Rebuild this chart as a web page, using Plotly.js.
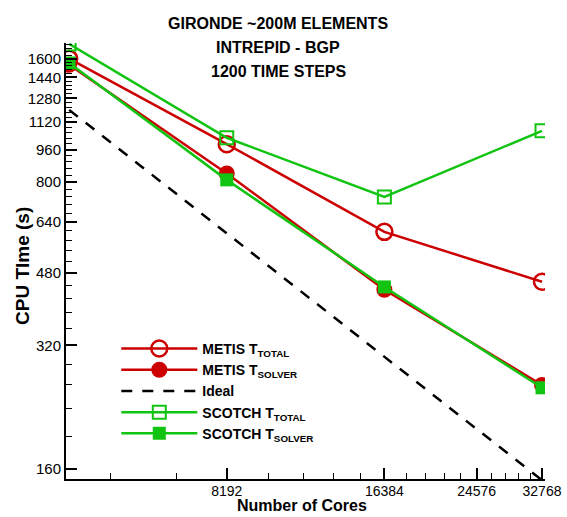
<!DOCTYPE html>
<html>
<head>
<meta charset="utf-8">
<script src="https://cdn.plot.ly/plotly-3.0.1.min.js"></script>
<style>html,body{margin:0;padding:0;background:#fff;}#chart{width:567px;height:517px;}</style>
</head>
<body>
<div id="chart"></div>
<script>
const cores = [4096, 8192, 16384, 32768];
const metisTotal = [1600, 990, 605, 457];
const metisSolver = [1546, 840, 437, 256];
const ideal = [1200, 600, 300, 150];
const scotchTotal = [1738, 1026, 736, 1067];
const scotchSolver = [1562, 810, 444, 252];

const seriesNames = ['METIS T<sub>TOTAL</sub>', 'METIS T<sub>SOLVER</sub>', 'Ideal', 'SCOTCH T<sub>TOTAL</sub>', 'SCOTCH T<sub>SOLVER</sub>'];

const xTickVals = [8192, 16384, 24576, 32768];
const xTickText = ['8192', '16384', '24576', '32768'];
const yTickVals = [160, 320, 480, 640, 800, 960, 1120, 1280, 1440, 1600];
const yTickText = ['160', '320', '480', '640', '800', '960', '1120', '1280', '1440', '1600'];

const xMinor = [];
for (let k = 3; k <= 19; k++) { const v = 1638.4 * k; if (k % 5 !== 0) xMinor.push(v); }
const yMinor = [];
for (let v = 160; v <= 1760; v += 32) { if (v % 160 !== 0) yMinor.push(v); }

const RED = '#cc0000';
const GREEN = '#11c411';
const FONT = 'Liberation Sans, Arial, Helvetica, sans-serif';

const traces = [
  {x: cores, y: metisTotal, name: '<b>' + seriesNames[0] + '</b>', mode: 'lines+markers',
   line: {color: RED, width: 2.5},
   marker: {symbol: 'circle-open', size: 16, color: RED, line: {width: 2.5, color: RED}}},
  {x: cores, y: metisSolver, name: '<b>' + seriesNames[1] + '</b>', mode: 'lines+markers',
   line: {color: RED, width: 2.5},
   marker: {symbol: 'circle', size: 16, color: RED}},
  {x: cores, y: ideal, name: '<b>' + seriesNames[2] + '</b>', mode: 'lines',
   line: {color: 'black', width: 2.5, dash: '11px,10px'}},
  {x: cores, y: scotchTotal, name: '<b>' + seriesNames[3] + '</b>', mode: 'lines+markers',
   line: {color: GREEN, width: 2.5},
   marker: {symbol: 'square-open', size: 13, color: GREEN, line: {width: 2, color: GREEN}}},
  {x: cores, y: scotchSolver, name: '<b>' + seriesNames[4] + '</b>', mode: 'lines+markers',
   line: {color: GREEN, width: 2.5},
   marker: {symbol: 'square', size: 13, color: GREEN}}
];

const titleLines = ['GIRONDE ~200M ELEMENTS', 'INTREPID - BGP', '1200 TIME STEPS'];
const titleY = [1.044, 0.989, 0.934];
const annotations = titleLines.map((t, i) => ({
  text: '<b>' + t + '</b>', xref: 'paper', yref: 'paper', x: 0.4426, y: titleY[i],
  xanchor: 'center', yanchor: 'middle', showarrow: false,
  font: {family: FONT, size: 16, color: 'black'}
}));
annotations.push({
  text: '<b>CPU TIme (s)</b>', xref: 'paper', yref: 'paper', x: -0.0919, y: 0.4885,
  xanchor: 'center', yanchor: 'middle', showarrow: false, textangle: -90,
  font: {family: FONT, size: 19, color: 'black'}
});
annotations.push({
  text: '<b>Number of Cores</b>', xref: 'paper', yref: 'paper', x: 0.4927, y: -0.0619,
  xanchor: 'center', yanchor: 'middle', showarrow: false, borderpad: 0,
  font: {family: FONT, size: 16, color: 'black'}
});

const layout = {
  width: 567, height: 517,
  margin: {l: 66, r: 22, t: 43, b: 38},
  paper_bgcolor: 'white', plot_bgcolor: 'white',
  showlegend: true,
  legend: {x: 0.105, y: 0.335, xanchor: 'left', yanchor: 'top', bgcolor: 'rgba(0,0,0,0)',
           itemwidth: 76, tracegroupgap: 0,
           font: {family: FONT, size: 14, color: 'black'}},
  xaxis: {
    type: 'log', range: [Math.log10(4040), Math.log10(33200)],
    tickmode: 'array', tickvals: xTickVals, ticktext: xTickText,
    ticks: 'inside', ticklen: 11, tickwidth: 2, tickcolor: 'black',
    showline: true, linecolor: 'black', linewidth: 2, mirror: false,
    showgrid: false, zeroline: false, ticklabelstandoff: -2,
    tickfont: {family: FONT, size: 14, color: 'black'},
    minor: {tickmode: 'array', tickvals: xMinor, ticks: 'inside', ticklen: 6, tickwidth: 1, tickcolor: 'black', showgrid: false}
  },
  yaxis: {
    type: 'log', range: [Math.log10(151), Math.log10(1747)],
    tickmode: 'array', tickvals: yTickVals, ticktext: yTickText,
    ticks: 'inside', ticklen: 11, tickwidth: 2, tickcolor: 'black',
    showline: true, linecolor: 'black', linewidth: 2, mirror: false,
    showgrid: false, zeroline: false,
    tickfont: {family: FONT, size: 15, color: 'black'},
    minor: {tickmode: 'array', tickvals: yMinor, ticks: 'inside', ticklen: 6, tickwidth: 1, tickcolor: 'black', showgrid: false}
  },
  annotations: annotations
};

Plotly.newPlot('chart', traces, layout, {displayModeBar: false, staticPlot: true});
</script>
</body>
</html>
